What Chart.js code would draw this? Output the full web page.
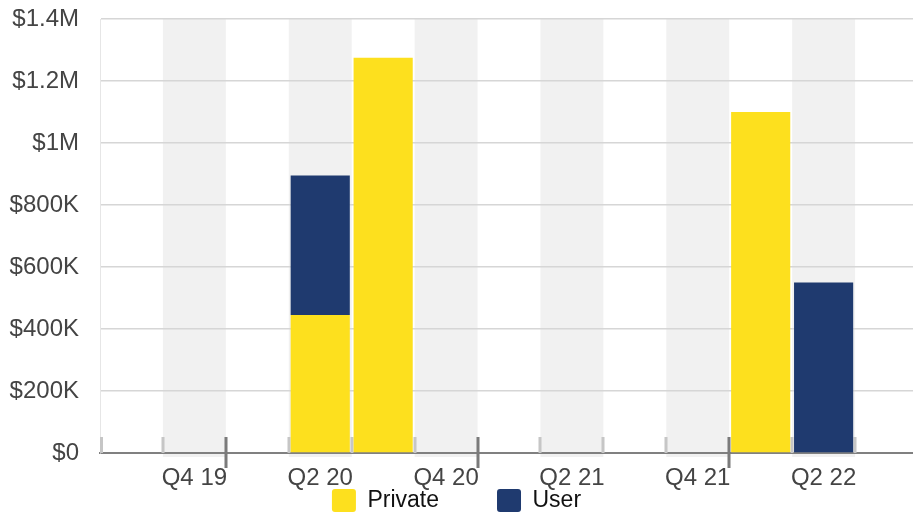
<!DOCTYPE html>
<html>
<head>
<meta charset="utf-8">
<script src="https://cdn.jsdelivr.net/npm/chart.js@4/dist/chart.umd.min.js"></script>
<style>
  html, body { margin: 0; padding: 0; background: #fff; }
  #wrap { width: 913px; height: 515px; position: relative; }
</style>
</head>
<body>
<div id="wrap"><canvas id="c"></canvas></div>
<script>
const categories = ['Q3 19','Q4 19','Q1 20','Q2 20','Q3 20','Q4 20','Q1 21','Q2 21','Q3 21','Q4 21','Q1 22','Q2 22','Q3 22'];
const privateValues = [null, null, null, 445000, 1275000, null, null, null, null, null, 1100000, null, null];
const userValues    = [null, null, null, 450000, null,    null, null, null, null, null, null,    550000, null];
const seriesNames = ['Private', 'User'];
const seriesColors = ['#FDE01E', '#1F3A6F'];
const yTickValues = [0, 200000, 400000, 600000, 800000, 1000000, 1200000, 1400000];

const FONT = "'Liberation Sans', Arial, Helvetica, sans-serif";

function money(v) {
  if (v === 0) return '$0';
  if (v >= 1000000) return '$' + (v / 1000000) + 'M';
  return '$' + (v / 1000) + 'K';
}

const LEGEND_BOX_TOP = 489;
const LEGEND_PAD = 58;
const PLOT_OVERHANG = 5;

const bandsPlugin = {
  id: 'bands',
  beforeDraw(chart) {
    const x = chart.scales.x, area = chart.chartArea, ctx = chart.ctx;
    const half = (x.getPixelForValue(1) - x.getPixelForValue(0)) / 2;
    ctx.save();
    ctx.fillStyle = '#f1f1f1';
    for (let i = 1; i < categories.length; i += 2) {
      const cx = x.getPixelForValue(i);
      ctx.fillRect(cx - half, area.top, half * 2, area.bottom - area.top + 4);
    }
    ctx.restore();
  },
  beforeDatasetsDraw(chart) {
    const x = chart.scales.x, area = chart.chartArea, ctx = chart.ctx;
    const half = (x.getPixelForValue(1) - x.getPixelForValue(0)) / 2;
    ctx.save();
    for (let i = 0; i < categories.length; i++) {
      const bx = x.getPixelForValue(i) - half;
      const yearEdge = categories[i].startsWith('Q1');
      ctx.fillStyle = yearEdge ? '#7b7b7b' : '#c6c6c6';
      const top = area.bottom - 16;
      const bottom = yearEdge ? area.bottom + 15 : area.bottom;
      ctx.fillRect(Math.round(bx) - 1.5 + (i === 0 ? 1.5 : 0), top, 3, bottom - top);
    }
    ctx.restore();
  },
  afterLayout(chart) {
    // plot area runs slightly past the right edge of the canvas, as in the source
    const x = chart.scales.x;
    x.right += PLOT_OVERHANG;
    x.width += PLOT_OVERHANG;
    x.configure();
    chart.chartArea.right += PLOT_OVERHANG;
    chart.chartArea.width += PLOT_OVERHANG;
    if (chart.legend) {
      chart.legend.top = LEGEND_BOX_TOP - LEGEND_PAD;
      chart.legend.bottom = chart.height;
    }
  }
};

new Chart(document.getElementById('c'), {
  type: 'bar',
  data: {
    labels: categories,
    datasets: [
      { label: seriesNames[0], data: privateValues, backgroundColor: seriesColors[0], borderWidth: 0 },
      { label: seriesNames[1], data: userValues, backgroundColor: seriesColors[1], borderWidth: 0 }
    ]
  },
  options: {
    responsive: true,
    maintainAspectRatio: false,
    animation: false,
    devicePixelRatio: 1,
    layout: { padding: { top: 19, left: 0, right: 0, bottom: 0 } },
    datasets: { bar: { barPercentage: 0.94, categoryPercentage: 1.0 } },
    scales: {
      x: {
        stacked: true,
        offset: true,
        grid: { display: true, drawOnChartArea: false, drawTicks: false },
        border: { display: true, color: '#808080', width: 2 },
        afterFit(scale) { scale.height = 40; },
        ticks: {
          autoSkip: false,
          maxRotation: 0,
          padding: 11,
          color: '#444',
          font: { family: FONT, size: 24 },
          callback(value, index) { return index % 2 === 1 ? categories[index] : ''; }
        }
      },
      y: {
        stacked: true,
        min: 0,
        max: 1400000,
        afterFit(scale) { scale.width = 100; },
        afterBuildTicks(scale) { scale.ticks = yTickValues.map(v => ({ value: v })); },
        grid: { color: '#d6d6d6', lineWidth: 1.5, drawTicks: true, tickLength: 18, tickColor: 'rgba(0,0,0,0)' },
        border: { display: true, color: '#e6e6e6', width: 1 },
        ticks: {
          padding: 3,
          color: '#444',
          font: { family: FONT, size: 24 },
          callback(v) { return money(v); }
        }
      }
    },
    plugins: {
      legend: {
        position: 'bottom',
        maxHeight: 22,
        labels: {
          boxWidth: 24,
          boxHeight: 23,
          padding: LEGEND_PAD,
          useBorderRadius: true,
          borderRadius: 3,
          color: '#111',
          font: { family: FONT, size: 23 }
        }
      },
      tooltip: { enabled: false }
    }
  },
  plugins: [bandsPlugin]
});
</script>
</body>
</html>
